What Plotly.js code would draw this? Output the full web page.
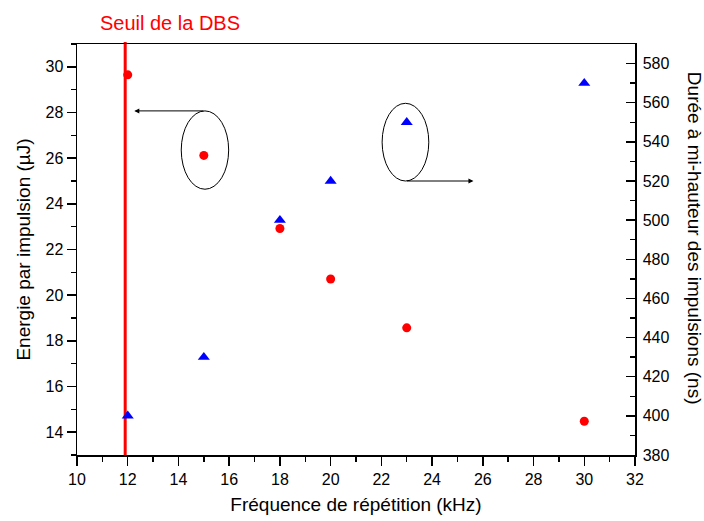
<!DOCTYPE html>
<html>
<head>
<meta charset="utf-8">
<script src="https://cdn.plot.ly/plotly-3.0.1.min.js"></script>
<style>html,body{margin:0;padding:0;background:#fff;}#chart{width:704px;height:521px;}</style>
</head>
<body>
<div id="chart"></div>
<script>
// Data
const freqKHz = [12, 15, 18, 20, 23, 30];
const energyUJ = [29.65, 26.12, 22.92, 20.71, 18.57, 14.48];
const durationNs = [400, 430, 500, 520, 550, 570];
const dbsThreshold = 11.9;

const xTitle = 'Fréquence de répétition (kHz)';
const yTitle = 'Energie par impulsion (µJ)';
const y2Title = 'Durée à mi-hauteur des impulsions (ns)';
const thresholdLabel = 'Seuil de la DBS';

const FONT = '"Liberation Sans", Arial, Helvetica, sans-serif';

const traces = [
  {
    x: freqKHz, y: energyUJ, type: 'scatter', mode: 'markers',
    marker: {symbol: 'circle', size: 9, color: '#ff0000'},
    yaxis: 'y', showlegend: false, cliponaxis: false
  },
  {
    x: freqKHz, y: durationNs, type: 'scatter', mode: 'markers',
    marker: {symbol: 'triangle-up', size: 10.5, color: '#0000ff'},
    yaxis: 'y2', showlegend: false, cliponaxis: false
  }
];

const axisCommon = {
  showgrid: false, zeroline: false,
  showline: true, linecolor: '#000', linewidth: 1.5,
  tickcolor: '#000', tickwidth: 1.5, ticklen: 9,
  tickfont: {family: FONT, size: 16, color: '#000'}
};

const layout = {
  width: 704, height: 521,
  margin: {l: 77, r: 69, t: 44, b: 66},
  paper_bgcolor: '#fff', plot_bgcolor: '#fff',
  font: {family: FONT, color: '#000'},
  title: {
    text: thresholdLabel, font: {family: FONT, size: 20, color: '#ff0000'},
    x: 0.2415, xref: 'container', xanchor: 'center',
    y: 0.956, yref: 'container', yanchor: 'middle'
  },
  xaxis: Object.assign({}, axisCommon, {
    range: [10, 32], tick0: 10, dtick: 2, ticks: 'outside', mirror: true,
    minor: {dtick: 1, ticks: 'outside', ticklen: 5, tickwidth: 1.5, tickcolor: '#000', showgrid: false},
    title: {text: xTitle, font: {family: FONT, size: 19}, standoff: 11}
  }),
  yaxis: Object.assign({}, axisCommon, {
    range: [13, 31], tick0: 0, dtick: 2, ticks: 'outside',
    minor: {dtick: 1, ticks: 'outside', ticklen: 5, tickwidth: 1.5, tickcolor: '#000', showgrid: false},
    title: {text: yTitle, font: {family: FONT, size: 19}, standoff: 10}
  }),
  yaxis2: Object.assign({}, axisCommon, {
    overlaying: 'y', side: 'right',
    range: [380, 590], tick0: 0, dtick: 20, ticks: 'inside',
    ticklabelstandoff: 3,
    minor: {dtick: 10, ticks: 'inside', ticklen: 5, tickwidth: 1.5, tickcolor: '#000', showgrid: false}
  }),
  shapes: [
    {type: 'line', xref: 'x', yref: 'paper', x0: dbsThreshold, x1: dbsThreshold, y0: 0, y1: 1.005,
     line: {color: '#ff0000', width: 3}, layer: 'below'},
    {type: 'circle', xref: 'x', yref: 'y', x0: 14.11, x1: 15.98, y0: 24.64, y1: 28.07,
     line: {color: '#000', width: 1}},
    {type: 'circle', xref: 'x', yref: 'y2', x0: 22.03, x1: 23.87, y0: 520.0, y1: 559.7,
     line: {color: '#000', width: 1}}
  ],
  annotations: [
    {x: 12.26, y: 28.07, xref: 'x', yref: 'y', ax: 15.045, ay: 28.07, axref: 'x', ayref: 'y',
     text: '', showarrow: true, arrowhead: 2, arrowsize: 1, arrowwidth: 1, arrowcolor: '#000'},
    {x: 25.63, y: 520.0, xref: 'x', yref: 'y2', ax: 22.95, ay: 520.0, axref: 'x', ayref: 'y2',
     text: '', showarrow: true, arrowhead: 2, arrowsize: 1, arrowwidth: 1, arrowcolor: '#000'},
    {text: y2Title, xref: 'paper', yref: 'paper', x: 1.106, y: 0.528,
     xanchor: 'center', yanchor: 'middle', textangle: 90, showarrow: false,
     font: {family: FONT, size: 19, color: '#000'}}
  ]
};

Plotly.newPlot('chart', traces, layout, {displayModeBar: false, staticPlot: true});
</script>
</body>
</html>
